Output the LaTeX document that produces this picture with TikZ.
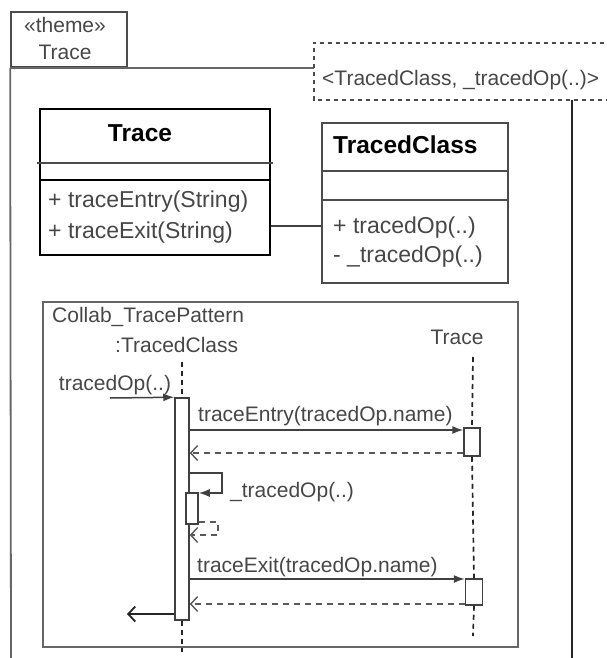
\documentclass[tikz,border=0pt]{standalone}
\usepackage{fontspec}
\setmainfont{Liberation Sans}
\usetikzlibrary{arrows.meta,calc}
\begin{document}
\begin{tikzpicture}[x=1pt,y=-1pt,
  frameline/.style={draw=black!60,line width=1.8pt},
  txt/.style={inner sep=0pt,text=black!72,font=\fontsize{21}{24}\selectfont},
  mem/.style={inner sep=0pt,text=black!72,font=\fontsize{23}{26}\selectfont,anchor=west},
  ttl/.style={inner sep=0pt,text=black,font=\bfseries\fontsize{24.5}{28}\selectfont},
  clsbox/.style={draw=black!70,line width=1.6pt,inner sep=0pt},
  actbox/.style={draw=black!75,fill=white,line width=1.5pt,inner sep=0pt},
  lifeline/.style={draw=black!85,line width=1.7pt,dash pattern=on 5pt off 4pt},
  msg/.style={draw=black!75,line width=1.5pt,-{Latex[length=11pt,width=8pt]}},
  ret/.style={draw=black!65,line width=1.4pt,dash pattern=on 6pt off 5pt,-{Straight Barb[length=7pt,width=15pt]}},
  retsolid/.style={draw=black!85,line width=1.8pt,-{Straight Barb[length=7pt,width=15pt]}}]
\useasboundingbox (0,0) rectangle (607,658);
\fill[white] (0,0) rectangle (607,658);

% package frame
\node[draw=black!70,line width=1.7pt,minimum width=116pt,minimum height=55pt,inner sep=0pt] (tab) at (69,39.5) {};
\node[txt] (stereo) at (65,25) {«theme»};
\node[txt] (tabname) at (65,52) {Trace};
\coordinate (fl) at (11,658);
\coordinate (fr) at (572,658);
\draw[frameline] (tab.south west) -- (fl);
\node[inner sep=0pt,minimum width=330pt,minimum height=57pt] (tparam) at (479,71.5) {};
\draw[frameline] (tab.south west) -- (tab.south west -| tparam.west);
\draw[draw=black!70,line width=1.6pt,dash pattern=on 4pt off 4pt] (tparam.north east) -- (tparam.north west) -- (tparam.south west) -- (tparam.south east);
\node[txt,anchor=west] (tplabel) at (322,80) {<TracedClass, \_tracedOp(..)>};
\draw[draw=black!85,line width=1.9pt] (tparam.south west -| fr) -- (fr);

% class Trace
\node[draw=black,line width=2.1pt,minimum width=230pt,minimum height=146pt,inner sep=0pt] (traceBox) at (155,182) {};
\draw[black!70,line width=1.4pt] (37,163) -- (273,163);
\draw[black,line width=2.1pt] (traceBox.west |- 0,180) -- (traceBox.east |- 0,180);
\node[ttl] (traceTitle) at (140,133) {Trace};
\node[mem] (tEntry) at (48,202) {+ traceEntry(String)};
\node[mem] (tExit) at (48,233) {+ traceExit(String)};

% class TracedClass
\node[clsbox,minimum width=186pt,minimum height=160pt] (tcBox) at (415,203) {};
\draw[black!70,line width=1.6pt] (tcBox.west |- 0,171) -- (tcBox.east |- 0,171);
\draw[black!70,line width=1.6pt] (tcBox.west |- 0,200) -- (tcBox.east |- 0,200);
\node[ttl,anchor=west] (tcTitle) at (333,145) {TracedClass};
\node[mem] (tcOp) at (333,228) {+ tracedOp(..)};
\node[mem] (tcPriv) at (333,257) {- \_tracedOp(..)};

% association
\coordinate (assocY) at (0,226);
\draw[black!75,line width=1.5pt] (traceBox.east |- assocY) -- (tcBox.west |- assocY);

% collaboration frame
\node[draw=black!60,line width=1.7pt,minimum width=475pt,minimum height=345pt,inner sep=0pt] (collab) at (280.5,474.5) {};
\node[txt,anchor=west] (collabName) at (52,317) {Collab\_TracePattern};
\node[txt,anchor=west] (tcLife) at (115,345) {:TracedClass};
\node[txt] (trLife) at (457,337) {Trace};

% activations
\node[actbox,minimum width=14pt,minimum height=222pt] (act) at (182,509) {};
\node[actbox,minimum width=12pt,minimum height=31pt] (act2) at (192,508.5) {};
\node[actbox,minimum width=16pt,minimum height=28pt] (ta1) at (472,442) {};
\node[actbox,minimum width=17pt,minimum height=26pt] (ta2) at (474,592) {};

% lifelines
\coordinate (tcTop) at (182,362);
\coordinate (tcEnd) at (182,652);
\coordinate (trTop) at (473,357);
\coordinate (trEnd) at (473,636);
\draw[lifeline] (tcTop) -- (act.north);
\draw[lifeline] (act.south) -- (tcEnd);
\draw[lifeline] (trTop) -- (ta1.north);
\draw[lifeline] (ta1.south) -- (ta2.north);
\draw[lifeline] (ta2.south) -- (trEnd);

% messages
\coordinate (inStart) at (110,398);
\node[txt] (inLbl) at (115,385) {tracedOp(..)};
\draw[msg] (inStart) -- (act.north west);

\node[txt,anchor=west] (entryLbl) at (198,416) {traceEntry(tracedOp.name)};
\draw[msg] (act.east |- 0,430) -- (ta1.west |- 0,430);
\draw[ret] (ta1.west |- 0,453) -- (act.east |- 0,453);

\coordinate (selfA) at (222,473);
\coordinate (selfB) at (222,493);
\node[txt,anchor=west] (selfLbl) at (230,492) {\_tracedOp(..)};
\draw[msg] (act.east |- selfA) -- (selfA) -- (selfB) -- (act2.north east |- selfB);
\coordinate (rA) at (218,522);
\coordinate (rB) at (218,535);
\draw[ret] (act2.east |- rA) -- (rA) -- (rB) -- (act.east |- rB);

\node[txt,anchor=west] (exitLbl) at (197,567) {traceExit(tracedOp.name)};
\draw[msg] (act.east |- 0,579) -- (ta2.west |- 0,579);
\draw[ret] (ta2.west |- 0,604) -- (act.east |- 0,604);

\coordinate (outEnd) at (127,614);
\draw[retsolid] (act.west |- outEnd) -- (outEnd);
\end{tikzpicture}
\end{document}
